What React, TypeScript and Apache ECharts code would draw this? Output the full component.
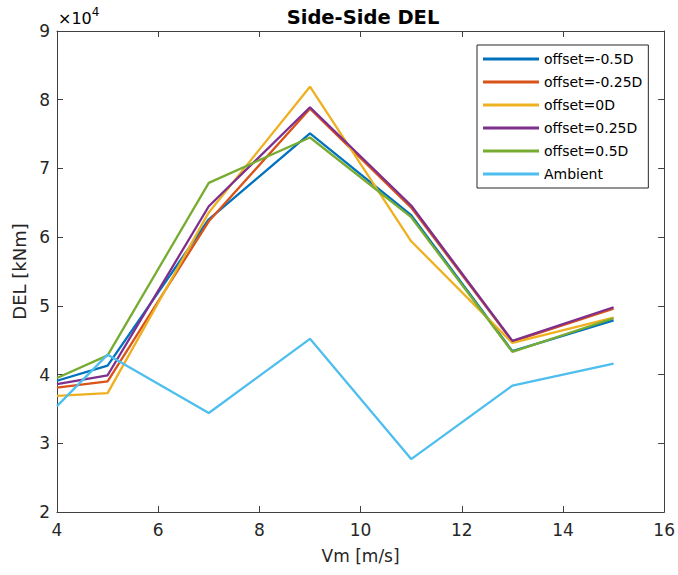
import React, { useEffect, useRef } from "react";
import * as echarts from "echarts";

const vm = [4, 5, 7, 9, 11, 13, 15];
const offsetM05 = [39100, 41300, 62600, 75100, 63200, 43400, 47900];
const offsetM025 = [38100, 39000, 62300, 78700, 64300, 44800, 49600];
const offset0 = [36900, 37300, 63600, 81900, 59400, 44600, 48300];
const offset025 = [38600, 39900, 64500, 78900, 64600, 44900, 49800];
const offset05 = [39500, 42800, 67900, 74500, 62900, 43300, 48200];
const ambient = [35400, 42900, 34400, 45200, 27700, 38400, 41600];

const seriesNames = ["offset=-0.5D", "offset=-0.25D", "offset=0D", "offset=0.25D", "offset=0.5D", "Ambient"];
const seriesData = [offsetM05, offsetM025, offset0, offset025, offset05, ambient];
const colors = ["#0072BD", "#D95319", "#EDB120", "#7E2F8E", "#77AC30", "#4DBEEE"];

const FONT = "DejaVu Sans";
const AX = "#262626";

export default function App() {
  const ref = useRef<HTMLDivElement>(null);
  useEffect(() => {
    if (!ref.current) return;
    const chart = echarts.init(ref.current, undefined, { renderer: "svg" });
    const axisLine = { show: true, lineStyle: { color: "#404040", width: 1 } };
    const tick = { show: true, inside: true, length: 6, lineStyle: { color: "#404040" } };
    chart.setOption({
      animation: false,
      backgroundColor: "#ffffff",
      color: colors,
      textStyle: { fontFamily: FONT },
      title: {
        text: "Side-Side DEL",
        left: 358,
        textAlign: "center",
        top: 2,
        textStyle: { fontFamily: FONT, fontWeight: "bold", fontSize: 19.5, color: "#000" },
      },
      grid: { left: 57, right: 13, top: 31, bottom: 63, containLabel: false },
      legend: {
        orient: "vertical",
        left: 477,
        top: 45,
        padding: [7, 6, 7, 6],
        borderColor: AX,
        borderWidth: 1,
        backgroundColor: "#fff",
        icon: "rect",
        itemWidth: 56,
        itemHeight: 3,
        itemGap: 9,
        textStyle: { fontFamily: FONT, fontSize: 14, color: "#000", lineHeight: 14 },
        data: seriesNames,
      },
      xAxis: [
        {
          type: "value",
          min: 4,
          max: 16,
          interval: 2,
          name: "Vm [m/s]",
          nameLocation: "middle",
          nameGap: 35,
          nameTextStyle: { fontFamily: FONT, fontSize: 17, color: AX },
          axisLine,
          axisTick: tick,
          axisLabel: { fontFamily: FONT, fontSize: 17, color: AX, margin: 9 },
          splitLine: { show: false },
        },
        {
          type: "value",
          position: "top",
          min: 4,
          max: 16,
          interval: 2,
          axisLine,
          axisTick: tick,
          axisLabel: { show: false },
          splitLine: { show: false },
        },
      ],
      yAxis: [
        {
          type: "value",
          min: 20000,
          max: 90000,
          interval: 10000,
          name: "DEL [kNm]",
          nameLocation: "middle",
          nameGap: 28,
          nameTextStyle: { fontFamily: FONT, fontSize: 18, color: AX },
          axisLine,
          axisTick: tick,
          axisLabel: {
            fontFamily: FONT,
            fontSize: 17,
            color: AX,
            margin: 7,
            formatter: (v: number) => String(v / 10000),
          },
          splitLine: { show: false },
        },
        {
          type: "value",
          position: "right",
          min: 20000,
          max: 90000,
          interval: 10000,
          axisLine,
          axisTick: tick,
          axisLabel: { show: false },
          splitLine: { show: false },
        },
      ],
      graphic: [
        {
          type: "text",
          left: 58,
          top: 6,
          style: {
            text: "{a|×10}{b|4}",
            rich: {
              a: { fontFamily: FONT, fontSize: 16, color: AX, verticalAlign: "bottom" },
              b: { fontFamily: FONT, fontSize: 12, color: AX, verticalAlign: "top", padding: [0, 0, 8, 0] },
            },
          },
        },
      ],
      series: seriesNames.map((name, i) => ({
        name,
        type: "line",
        xAxisIndex: 0,
        yAxisIndex: 0,
        data: vm.map((x, j) => [x, seriesData[i][j]]),
        showSymbol: false,
        symbol: "none",
        lineStyle: { width: 2.3, color: colors[i] },
        itemStyle: { color: colors[i] },
      })),
    });
    return () => chart.dispose();
  }, []);
  return <div ref={ref} style={{ position: "fixed", left: 0, top: 0, width: 678, height: 575 }} />;
}
